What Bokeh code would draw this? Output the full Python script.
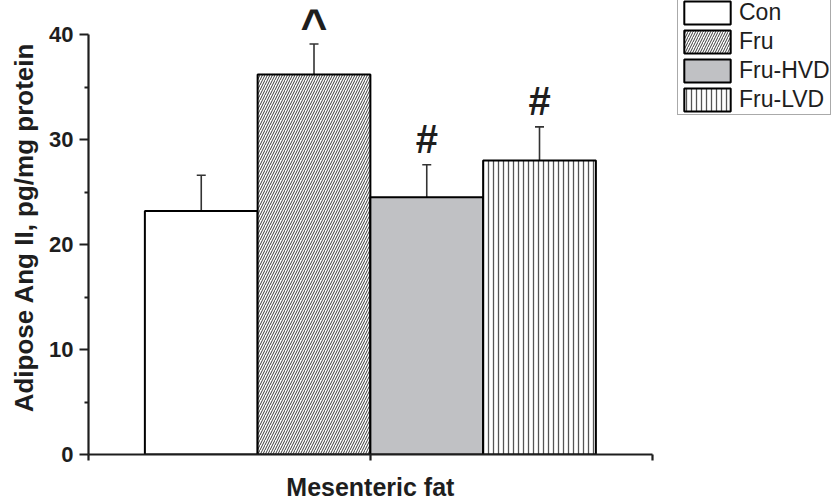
from bokeh.plotting import figure
from bokeh.models import (Range1d, FixedTicker, Whisker, TeeHead, ColumnDataSource,
                          Legend, LegendItem, Label)
from bokeh.embed import file_html
from bokeh.resources import INLINE

# Adipose Ang II in mesenteric fat, by group
groups = ["Con", "Fru", "Fru-HVD", "Fru-LVD"]
means = [23.2, 36.2, 24.5, 28.0]
sems = [3.4, 2.9, 3.1, 3.2]
marks = ["", "^", "#", "#"]
x_title = "Mesenteric fat"
y_title = "Adipose Ang II, pg/mg protein"
y_ticks = [0, 10, 20, 30, 40]

fills = ["white", "white", "#c0c1c4", "white"]
hatches = [" ", "/", " ", "|"]
hatch_colors = ["black", "#3a3a3a", "black", "#555555"]
hatch_scales = [5, 5, 5, 5]
hatch_weights = [1, 1, 1, 1.3]

FONT = "Liberation Sans"
INK = "#1e1e1e"

# the frame runs to the top and right edges so the legend and marks are not clipped;
# the axis lines are bounded to the data extent
p = figure(width=832, height=503, output_backend="svg", toolbar_location=None,
           x_range=Range1d(0, 1 + 180 / 563), y_range=Range1d(0, 40 + 34 / 10.5),
           min_border_left=88, min_border_right=0, min_border_top=0, min_border_bottom=49)
p.outline_line_color = None
p.xgrid.visible = False
p.ygrid.visible = False
p.background_fill_color = "white"
p.border_fill_color = "white"

# bars sit side by side in the middle of the axis
xs = [0.2 + 0.2 * i for i in range(len(groups))]
src = ColumnDataSource(dict(x=xs, top=means, fill=fills, hatch=hatches, hcol=hatch_colors,
                            hscale=hatch_scales, hweight=hatch_weights,
                            base=means, upper=[m + s for m, s in zip(means, sems)]))
bars = p.vbar(x="x", top="top", width=0.2, source=src, fill_color="fill",
              hatch_pattern="hatch", hatch_color="hcol", hatch_scale="hscale",
              hatch_weight="hweight", line_color="black", line_width=2)

# upper error bars
w = Whisker(base="x", lower="base", upper="upper", source=src, dimension="height",
            line_color="#333333", line_width=1.6,
            upper_head=TeeHead(size=9, line_color="#333333", line_width=1.6),
            lower_head=None)
p.add_layout(w)

# significance marks above the error bars
for xv, up, mk in zip(xs, src.data["upper"], marks):
    if not mk:
        continue
    yoff = 1.75 if mk == "^" else 2.45
    size = "46px" if mk == "^" else "40px"
    p.add_layout(Label(x=xv, y=up + yoff, text=mk, text_align="center",
                       text_baseline="alphabetic", text_font=FONT, text_font_style="bold",
                       text_font_size=size, text_color=INK))

# axes
xa = p.xaxis[0]
xa.bounds = (0, 1)
xa.ticker = FixedTicker(ticks=[0, 0.5, 1])
xa.major_label_overrides = {0: "", 0.5: x_title, 1: ""}
xa.major_label_text_font = FONT
xa.major_label_text_font_style = "bold"
xa.major_label_text_font_size = "25px"
xa.major_label_text_color = INK
xa.major_label_standoff = 12
xa.minor_tick_line_color = None
xa.major_tick_in = 0
xa.major_tick_out = 6
xa.axis_line_width = 2.2
xa.major_tick_line_width = 2.2
xa.axis_line_color = INK
xa.major_tick_line_color = INK

ya = p.yaxis[0]
ya.bounds = (0, 40)
ya.ticker = FixedTicker(ticks=y_ticks, minor_ticks=[5, 15, 25, 35])
ya.major_tick_in = 0
ya.major_tick_out = 9
ya.minor_tick_in = 0
ya.minor_tick_out = 4
ya.axis_line_width = 2.2
ya.major_tick_line_width = 2.2
ya.minor_tick_line_width = 2
ya.axis_line_color = INK
ya.major_tick_line_color = INK
ya.minor_tick_line_color = INK
ya.major_label_text_font = FONT
ya.major_label_text_font_style = "bold"
ya.major_label_text_font_size = "22px"
ya.major_label_text_color = INK
ya.major_label_standoff = 6
ya.axis_label = y_title
ya.axis_label_text_font = FONT
ya.axis_label_text_font_style = "bold"
ya.axis_label_text_font_size = "26px"
ya.axis_label_text_color = INK
ya.axis_label_standoff = 7

# legend in the top-right corner; swatches fill most of each row
items = [LegendItem(label=g, renderers=[bars], index=i) for i, g in enumerate(groups)]
legend = Legend(items=items, location=(589, 339), orientation="vertical",
                glyph_width=58, glyph_height=29, label_height=29, spacing=0, padding=0,
                margin=0, label_standoff=3,
                label_text_font=FONT, label_text_font_size="23px", label_text_color=INK,
                border_line_color="#555555", border_line_width=1,
                background_fill_color="white", background_fill_alpha=1)
p.add_layout(legend, "center")

open("out.html", "w").write(file_html(p, INLINE))
